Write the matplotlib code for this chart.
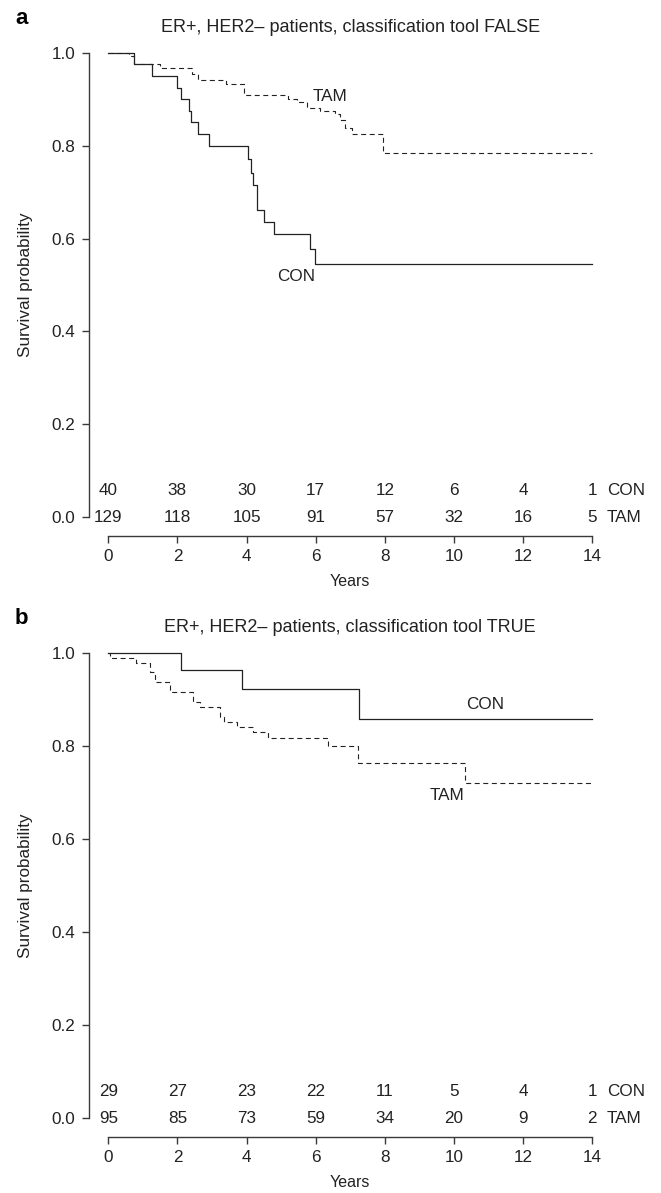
import matplotlib
matplotlib.use("Agg")
import matplotlib.pyplot as plt

plt.rcParams['font.family'] = ['Liberation Sans', 'DejaVu Sans']

# Kaplan-Meier steps (time in years, survival after the step)
a_con_t = [0, 0.75, 1.26, 2.0, 2.09, 2.33, 2.38, 2.59, 2.91, 4.03, 4.14, 4.19, 4.29, 4.50, 4.80, 5.83, 5.98, 14]
a_con_s = [1.0, 0.975, 0.95, 0.925, 0.90, 0.875, 0.85, 0.825, 0.80, 0.772, 0.742, 0.715, 0.662, 0.636, 0.609, 0.577, 0.545, 0.545]
a_tam_t = [0, 0.6, 0.75, 1.5, 2.41, 2.6, 3.4, 3.93, 5.21, 5.45, 5.74, 6.12, 6.56, 6.70, 6.85, 7.04, 7.94, 14]
a_tam_s = [1.0, 0.992, 0.975, 0.967, 0.955, 0.942, 0.933, 0.908, 0.900, 0.893, 0.880, 0.874, 0.867, 0.856, 0.838, 0.825, 0.785, 0.785]

b_con_t = [0, 2.11, 3.88, 7.24, 14]
b_con_s = [1.0, 0.9625, 0.9224, 0.857, 0.857]
b_tam_t = [0, 0.05, 0.8, 1.2, 1.35, 1.78, 2.46, 2.65, 3.23, 3.35, 3.71, 4.19, 4.63, 6.36, 7.23, 10.32, 14]
b_tam_s = [1.0, 0.989, 0.979, 0.958, 0.937, 0.916, 0.895, 0.884, 0.863, 0.852, 0.841, 0.830, 0.816, 0.800, 0.763, 0.721, 0.721]

# numbers at risk
risk_times = [0, 2, 4, 6, 8, 10, 12, 14]
a_con_risk = [40, 38, 30, 17, 12, 6, 4, 1]
a_tam_risk = [129, 118, 105, 91, 57, 32, 16, 5]
b_con_risk = [29, 27, 23, 22, 11, 5, 4, 1]
b_tam_risk = [95, 85, 73, 59, 34, 20, 9, 2]

titles = ['ER+, HER2\u2013 patients, classification tool FALSE',
          'ER+, HER2\u2013 patients, classification tool TRUE']

fig = plt.figure(figsize=(6.61, 11.93), dpi=100)
axa = fig.add_axes([0.1345, 0.5508, 0.7908, 0.4206])
axb = fig.add_axes([0.1345, 0.0469, 0.7908, 0.4215])

ink = '#222222'
axis_col = '#3a3a3a'
fs = 12.3


def km_panel(ax, con_t, con_s, tam_t, tam_s, con_risk, tam_risk, title,
             con_lab, tam_lab):
    ax.step(con_t, con_s, where='post', color=ink, lw=0.9)
    tl, = ax.step(tam_t, tam_s, where='post', color=ink, lw=0.8)
    tl.set_dashes((4.5, 3.2))
    ax.set_xlim(-0.56, 14.56)
    ax.set_ylim(-0.04, 1.04)
    for s in ['top', 'right']:
        ax.spines[s].set_visible(False)
    ax.spines['left'].set_bounds(0, 1)
    ax.spines['bottom'].set_bounds(0, 14)
    for s in ['left', 'bottom']:
        ax.spines[s].set_color(axis_col)
        ax.spines[s].set_linewidth(1.0)
    ax.set_xticks(risk_times)
    ax.set_yticks([0, 0.2, 0.4, 0.6, 0.8, 1.0])
    ax.set_yticklabels(['0.0', '0.2', '0.4', '0.6', '0.8', '1.0'])
    ax.tick_params(axis='both', direction='out', length=5, width=1.0,
                   color=axis_col, labelcolor=ink, labelsize=fs)
    ax.tick_params(axis='y', pad=5)
    ax.tick_params(axis='x', pad=4.5)
    # numbers at risk
    for t, c, m in zip(risk_times, con_risk, tam_risk):
        ax.text(t, 0.057, str(c), ha='center', va='center', fontsize=fs, color=ink)
        ax.text(t, 0.0, str(m), ha='center', va='center', fontsize=fs, color=ink)
    ax.text(14.42, 0.057, 'CON', ha='left', va='center', fontsize=fs, color=ink, clip_on=False)
    ax.text(14.42, 0.0, 'TAM', ha='left', va='center', fontsize=fs, color=ink, clip_on=False)
    # curve labels
    ax.text(con_lab[0], con_lab[1], 'CON', ha='center', va='center', fontsize=fs, color=ink)
    ax.text(tam_lab[0], tam_lab[1], 'TAM', ha='center', va='center', fontsize=fs, color=ink)
    ax.text(0.5, 1.004, title, transform=ax.transAxes, ha='center', va='baseline',
            fontsize=13, color=ink)
    ax.text(-0.122, 0.5, 'Survival probability', transform=ax.get_yaxis_transform(),
            rotation=90, ha='center', va='center', fontsize=fs, color=ink)
    ax.text(7, -0.09, 'Years', transform=ax.get_xaxis_transform(),
            ha='center', va='center', fontsize=fs - 0.8, color=ink)


km_panel(axa, a_con_t, a_con_s, a_tam_t, a_tam_s, a_con_risk, a_tam_risk, titles[0],
         (5.44, 0.518), (6.41, 0.906))
km_panel(axb, b_con_t, b_con_s, b_tam_t, b_tam_s, b_con_risk, b_tam_risk, titles[1],
         (10.91, 0.890), (9.81, 0.693))

fig.text(15 / 661, 1 - 24 / 1193, 'a', fontsize=16, fontweight='bold', ha='left', va='baseline')
fig.text(15 / 661, 1 - 624 / 1193, 'b', fontsize=16, fontweight='bold', ha='left', va='baseline')

fig.savefig('out.png', dpi=100)
